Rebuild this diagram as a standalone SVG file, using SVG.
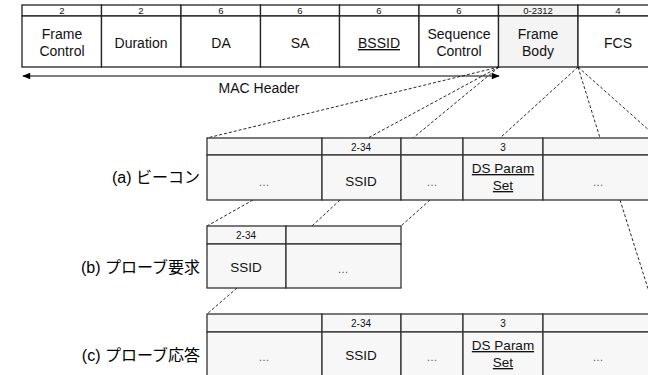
<svg xmlns="http://www.w3.org/2000/svg" width="648" height="375" viewBox="0 0 648 375">
<defs>
<style>
.cell{fill:#ffffff;stroke:#222;stroke-width:1.3}
.gcell{fill:#f4f4f4;stroke:#222;stroke-width:1.3}
.scell{fill:#f7f7f7;stroke:#333;stroke-width:1.3}
.t{font-family:"Liberation Sans",Arial,sans-serif;fill:#111;text-anchor:middle}
.n{font-size:9.5px}
.l{font-size:14px}
.s{font-size:10px}
.m{font-size:13.5px}
.lab{font-family:"Liberation Sans","Noto Sans CJK JP",sans-serif;font-size:16px;fill:#000;text-anchor:end}
.dots{font-size:11px;fill:#555}
.d{fill:none;stroke:#111;stroke-width:0.9;stroke-dasharray:3 2}
</style>
<marker id="ah" viewBox="0 0 10 10" refX="9" refY="5" markerWidth="9" markerHeight="8" orient="auto-start-reverse" markerUnits="userSpaceOnUse"><path d="M0,1 L10,5 L0,9 Z" fill="#000"/></marker>
</defs>

<g id="mac-frame">
<rect class="cell" x="22" y="5" width="79.5" height="11"/><rect class="cell" x="22" y="16" width="79.5" height="51"/>
<rect class="cell" x="101.5" y="5" width="79.5" height="11"/><rect class="cell" x="101.5" y="16" width="79.5" height="51"/>
<rect class="cell" x="181" y="5" width="79.5" height="11"/><rect class="cell" x="181" y="16" width="79.5" height="51"/>
<rect class="cell" x="260.5" y="5" width="79" height="11"/><rect class="cell" x="260.5" y="16" width="79" height="51"/>
<rect class="cell" x="339.5" y="5" width="79.5" height="11"/><rect class="cell" x="339.5" y="16" width="79.5" height="51"/>
<rect class="cell" x="419" y="5" width="79.5" height="11"/><rect class="cell" x="419" y="16" width="79.5" height="51"/>
<rect class="gcell" x="498.5" y="5" width="79.5" height="11"/><rect class="gcell" x="498.5" y="16" width="79.5" height="51"/>
<rect class="cell" x="578" y="5" width="79.5" height="11"/><rect class="cell" x="578" y="16" width="79.5" height="51"/>
<text class="t n" x="62" y="14">2</text>
<text class="t n" x="141" y="14">2</text>
<text class="t n" x="221" y="14">6</text>
<text class="t n" x="300" y="14">6</text>
<text class="t n" x="379" y="14">6</text>
<text class="t n" x="459" y="14">6</text>
<text class="t n" x="538" y="14">0-2312</text>
<text class="t n" x="618" y="14">4</text>
<text class="t l" x="62" y="39">Frame</text><text class="t l" x="62" y="56">Control</text>
<text class="t l" x="141" y="48">Duration</text>
<text class="t l" x="221" y="48">DA</text>
<text class="t l" x="300" y="48">SA</text>
<text class="t l" x="379" y="48" text-decoration="underline">BSSID</text>
<text class="t l" x="459" y="39">Sequence</text><text class="t l" x="459" y="56">Control</text>
<text class="t l" x="538" y="39">Frame</text><text class="t l" x="538" y="56">Body</text>
<text class="t l" x="618" y="48">FCS</text>
</g>

<g id="mac-header">
<line x1="23" y1="76" x2="499" y2="76" stroke="#000" stroke-width="1.2" marker-start="url(#ah)" marker-end="url(#ah)"/>
<text class="t l" x="259" y="93">MAC Header</text>
</g>

<g id="connectors">
<path class="d" d="M499,67 L207,138 M499,67 L368,138 M499,67 L413,138"/>
<path class="d" d="M578,67 L500,138 M578,67 L600,138 M578,67 L660,140"/>
<path class="d" d="M253,200 L207,226 M340,200 L312,226 M430,200 L401,226"/>
<path class="d" d="M620,200 L656,314"/>
<path class="d" d="M237,288 L207,314"/>
</g>

<g id="beacon">
<rect class="scell" x="207" y="138" width="115" height="17"/><rect class="scell" x="207" y="155" width="115" height="45"/>
<rect class="scell" x="322" y="138" width="79" height="17"/><rect class="scell" x="322" y="155" width="79" height="45"/>
<rect class="scell" x="401" y="138" width="62" height="17"/><rect class="scell" x="401" y="155" width="62" height="45"/>
<rect class="scell" x="463" y="138" width="80" height="17"/><rect class="scell" x="463" y="155" width="80" height="45"/>
<rect class="scell" x="543" y="138" width="115" height="17"/><rect class="scell" x="543" y="155" width="115" height="45"/>
<text class="t s" x="361" y="150.5">2-34</text>
<text class="t s" x="503" y="150.5">3</text>
<text class="t dots" x="264" y="186">…</text>
<text class="t m" x="361" y="186">SSID</text>
<text class="t dots" x="432" y="186">…</text>
<text class="t m" x="503" y="173" text-decoration="underline">DS Param</text>
<text class="t m" x="503" y="190" text-decoration="underline">Set</text>
<text class="t dots" x="598" y="186">…</text>
<text class="lab" x="200" y="183">(a) ビーコン</text>
</g>

<g id="probe-request">
<rect class="scell" x="207" y="226" width="79" height="18"/><rect class="scell" x="207" y="244" width="79" height="44"/>
<rect class="scell" x="286" y="226" width="115" height="18"/><rect class="scell" x="286" y="244" width="115" height="44"/>
<text class="t s" x="246" y="239">2-34</text>
<text class="t m" x="246" y="272">SSID</text>
<text class="t dots" x="343" y="273">…</text>
<text class="lab" x="200" y="273">(b) プローブ要求</text>
</g>

<g id="probe-response">
<rect class="scell" x="207" y="314" width="115" height="18"/><rect class="scell" x="207" y="332" width="115" height="50"/>
<rect class="scell" x="322" y="314" width="79" height="18"/><rect class="scell" x="322" y="332" width="79" height="50"/>
<rect class="scell" x="401" y="314" width="62" height="18"/><rect class="scell" x="401" y="332" width="62" height="50"/>
<rect class="scell" x="463" y="314" width="80" height="18"/><rect class="scell" x="463" y="332" width="80" height="50"/>
<rect class="scell" x="543" y="314" width="115" height="18"/><rect class="scell" x="543" y="332" width="115" height="50"/>
<text class="t s" x="361" y="327">2-34</text>
<text class="t s" x="503" y="327">3</text>
<text class="t dots" x="264" y="361">…</text>
<text class="t m" x="361" y="360">SSID</text>
<text class="t dots" x="432" y="361">…</text>
<text class="t m" x="503" y="350" text-decoration="underline">DS Param</text>
<text class="t m" x="503" y="367" text-decoration="underline">Set</text>
<text class="t dots" x="598" y="361">…</text>
<text class="lab" x="200" y="361">(c) プローブ応答</text>
</g>
</svg>
